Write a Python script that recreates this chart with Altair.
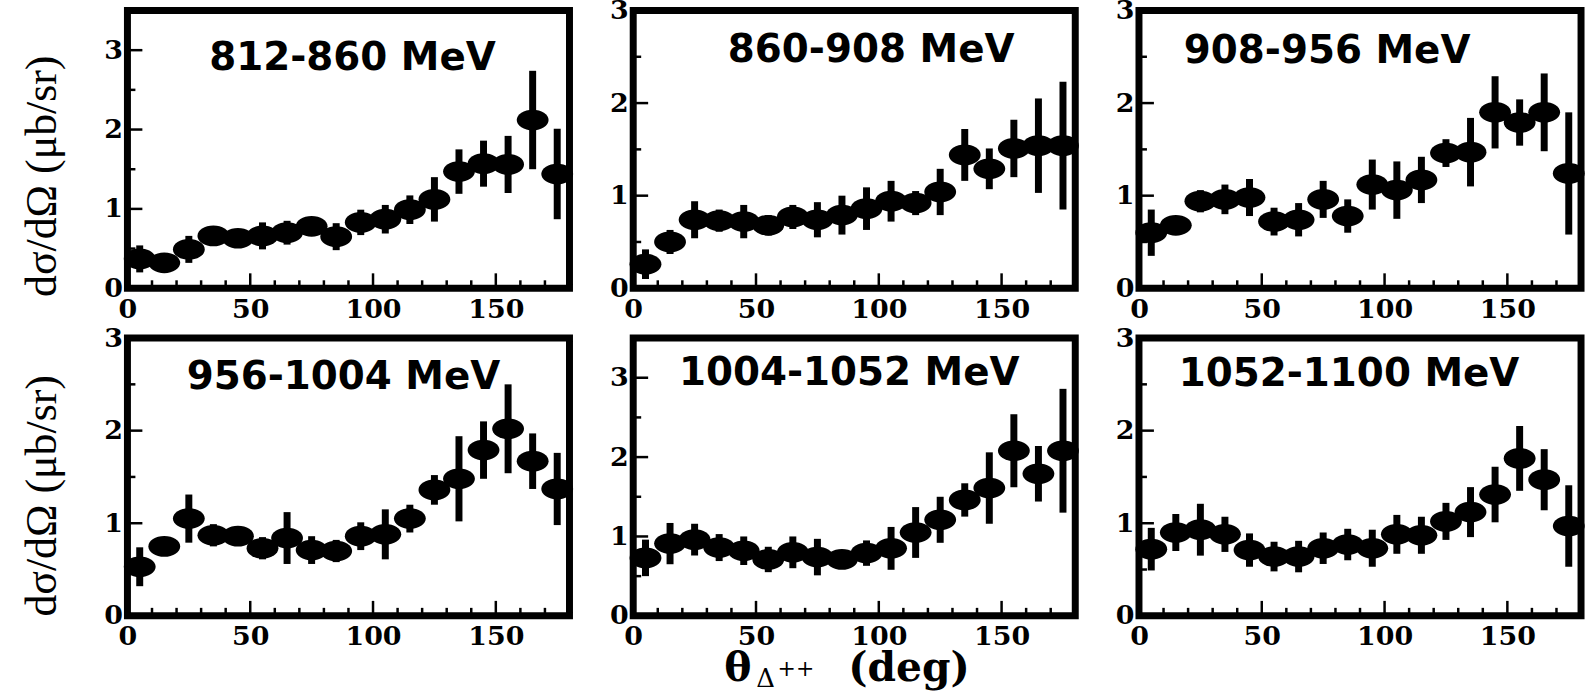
import altair as alt
import pandas as pd

# Delta++ production angle bins (deg), centre of each 10-degree bin
THETA = [5, 15, 25, 35, 45, 55, 65, 75, 85, 95, 105, 115, 125, 135, 145, 155, 165, 175]

BINS = ["812-860 MeV", "860-908 MeV", "908-956 MeV",
        "956-1004 MeV", "1004-1052 MeV", "1052-1100 MeV"]

# differential cross sections (mub/sr) and their errors, one list per energy bin
XS_812 = [0.37, 0.32, 0.49, 0.66, 0.63, 0.66, 0.70, 0.78, 0.65, 0.83, 0.87, 0.99, 1.12, 1.47, 1.57, 1.56, 2.12, 1.44]
ER_812 = [0.17, 0.05, 0.17, 0.05, 0.11, 0.17, 0.15, 0.05, 0.17, 0.16, 0.18, 0.18, 0.28, 0.28, 0.29, 0.36, 0.62, 0.57]

XS_860 = [0.26, 0.50, 0.74, 0.73, 0.72, 0.68, 0.77, 0.74, 0.79, 0.86, 0.94, 0.92, 1.04, 1.44, 1.29, 1.51, 1.54, 1.54]
ER_860 = [0.16, 0.13, 0.20, 0.12, 0.18, 0.11, 0.13, 0.19, 0.21, 0.23, 0.22, 0.13, 0.25, 0.28, 0.22, 0.31, 0.51, 0.69]

XS_908 = [0.60, 0.68, 0.94, 0.96, 0.98, 0.72, 0.74, 0.96, 0.78, 1.12, 1.06, 1.17, 1.46, 1.47, 1.90, 1.79, 1.90, 1.24]
ER_908 = [0.25, 0.06, 0.12, 0.16, 0.20, 0.15, 0.18, 0.20, 0.18, 0.27, 0.31, 0.25, 0.15, 0.37, 0.39, 0.25, 0.42, 0.66]

XS_956 = [0.53, 0.75, 1.05, 0.87, 0.86, 0.73, 0.84, 0.71, 0.70, 0.86, 0.88, 1.05, 1.36, 1.48, 1.79, 2.02, 1.67, 1.37]
ER_956 = [0.21, 0.05, 0.26, 0.12, 0.05, 0.12, 0.28, 0.15, 0.12, 0.15, 0.27, 0.15, 0.16, 0.46, 0.31, 0.48, 0.30, 0.39]

XS_1004 = [0.73, 0.91, 0.96, 0.86, 0.82, 0.71, 0.80, 0.74, 0.71, 0.79, 0.85, 1.05, 1.21, 1.46, 1.61, 2.08, 1.79, 2.08]
ER_1004 = [0.23, 0.26, 0.20, 0.17, 0.18, 0.16, 0.20, 0.23, 0.12, 0.16, 0.27, 0.32, 0.29, 0.21, 0.45, 0.46, 0.35, 0.78]

XS_1052 = [0.72, 0.90, 0.93, 0.88, 0.71, 0.64, 0.64, 0.73, 0.77, 0.73, 0.88, 0.87, 1.02, 1.12, 1.31, 1.70, 1.47, 0.97]
ER_1052 = [0.23, 0.20, 0.28, 0.19, 0.18, 0.16, 0.17, 0.17, 0.17, 0.20, 0.21, 0.20, 0.20, 0.27, 0.30, 0.35, 0.33, 0.44]

XS = [XS_812, XS_860, XS_908, XS_956, XS_1004, XS_1052]
ER = [ER_812, ER_860, ER_908, ER_956, ER_1004, ER_1052]
YMAX = [3.5, 3, 3, 3, 3.5, 3]

X_LABELS = [0, 50, 100, 150]
Y_LABELS = [0, 1, 2, 3]
Y_TITLE = "dσ/dΩ (μb/sr)"

# panel geometry and label placement (pixels)
W, H = 444, 279
TITLE_POS = [(226, 60), (239, 52), (189, 53), (217, 51), (217, 47), (211, 48)]

# filled ellipse marker, unit path scaled by sqrt(size)/2
ELLIPSE = ("M -1 0 C -1 -0.36 -0.552 -0.65 0 -0.65 C 0.552 -0.65 1 -0.36 1 0 "
           "C 1 0.36 0.552 0.65 0 0.65 C -0.552 0.65 -1 0.36 -1 0 Z")

LABEL_FONT = "DejaVu Serif"
TITLE_FONT = "Liberation Serif, Times New Roman, serif"


def panel(i, first_col):
    ymax = YMAX[i]
    df = pd.DataFrame({
        "theta": THETA,
        "xs": XS[i],
        "lo": [v - e for v, e in zip(XS[i], ER[i])],
        "hi": [v + e for v, e in zip(XS[i], ER[i])],
    })
    xscale = alt.Scale(domain=[0, 180], nice=False, zero=False)
    yscale = alt.Scale(domain=[0, ymax], nice=False, zero=True)
    xaxis = alt.Axis(values=X_LABELS, title=None, grid=False, ticks=False, tickSize=0,
                     domain=False, labelFont=LABEL_FONT, labelFontWeight="bold",
                     labelFontSize=27, labelColor="black", labelPadding=8,
                     labelFlush=False, labelOverlap=False, format="d")
    yaxis_kw = dict(values=Y_LABELS, grid=False, ticks=False, tickSize=0, domain=False,
                    labelFont=LABEL_FONT, labelFontWeight="bold", labelFontSize=27,
                    labelColor="black", labelPadding=5, labelFlush=False,
                    labelOverlap=False, format="d")
    if first_col:
        yaxis = alt.Axis(title=Y_TITLE, titleFont=TITLE_FONT, titleFontSize=44,
                         titleFontWeight="normal", titleColor="black", titleAngle=270,
                         titleAlign="center", titleBaseline="middle",
                         titleX=-85, titleY=[166, 158][i // 3], **yaxis_kw)
    else:
        yaxis = alt.Axis(title=None, **yaxis_kw)

    X = lambda f: alt.X(f, type="quantitative", scale=xscale, axis=xaxis)
    Y = lambda f: alt.Y(f, type="quantitative", scale=yscale, axis=yaxis)

    base = alt.Chart(df)
    bars = base.mark_rule(strokeWidth=7, color="black").encode(
        x=X("theta"), y=Y("lo"), y2="hi")
    points = base.mark_point(shape=ELLIPSE, size=1024, filled=True, color="black",
                             opacity=1, strokeWidth=0).encode(x=X("theta"), y=Y("xs"))

    # inward tick marks along the bottom and left frame
    xmaj = pd.DataFrame({"v": [50, 100, 150]})
    xmin = pd.DataFrame({"v": [v for v in range(10, 180, 10) if v % 50]})
    ymaj = pd.DataFrame({"v": [v for v in [1, 2, 3] if v < ymax]})
    ymin = pd.DataFrame({"v": [v for v in [0.5, 1.5, 2.5] if v < ymax]})
    tx1 = alt.Chart(xmaj).mark_rule(strokeWidth=2.5, color="black").encode(
        x=X("v"), y=alt.value(H), y2=alt.value(H - 15))
    tx2 = alt.Chart(xmin).mark_rule(strokeWidth=2.5, color="black").encode(
        x=X("v"), y=alt.value(H), y2=alt.value(H - 8))
    ty1 = alt.Chart(ymaj).mark_rule(strokeWidth=2.5, color="black").encode(
        y=Y("v"), x=alt.value(-3), x2=alt.value(15))
    ty2 = alt.Chart(ymin).mark_rule(strokeWidth=2.5, color="black").encode(
        y=Y("v"), x=alt.value(0), x2=alt.value(8))

    tx, ty = TITLE_POS[i]
    title = alt.Chart(pd.DataFrame({"label": [BINS[i]]})).mark_text(
        font="DejaVu Sans", fontWeight="bold", fontSize=39, color="black",
        align="center", baseline="alphabetic").encode(
        text="label:N", x=alt.value(tx), y=alt.value(ty))

    layers = [bars, points, tx1, tx2, ty1, ty2, title]

    if i == 4:
        # shared x-axis title under the middle panel
        parts = pd.DataFrame({"t": ["θ", "Δ", "++", "(deg)"]})
        specs = [("θ", 105, 344, 41, "center", "bold"),
                 ("Δ", 133, 350, 26, "center", "normal"),
                 ("++", 145, 339, 22, "left", "normal"),
                 ("(deg)", 216, 344, 41, "left", "bold")]
        for txt, px, py, fs, al, fw in specs:
            layers.append(
                alt.Chart(parts[parts["t"] == txt]).mark_text(
                    font=LABEL_FONT, fontWeight=fw, fontSize=fs, color="black",
                    align=al, baseline="alphabetic").encode(
                    text="t:N", x=alt.value(px), y=alt.value(py)))

    return alt.layer(*layers).properties(width=W, height=H)


panels = [panel(i, i % 3 == 0) for i in range(6)]

chart = alt.concat(*panels, columns=3, spacing={"row": 50, "column": 64}, bounds="flush").properties(
    padding={"left": 17, "top": -9, "right": 0, "bottom": 0},
    background="white",
).configure_view(stroke="black", strokeWidth=7)

chart.save("out.html", embed_options={"renderer": "svg", "actions": False})
